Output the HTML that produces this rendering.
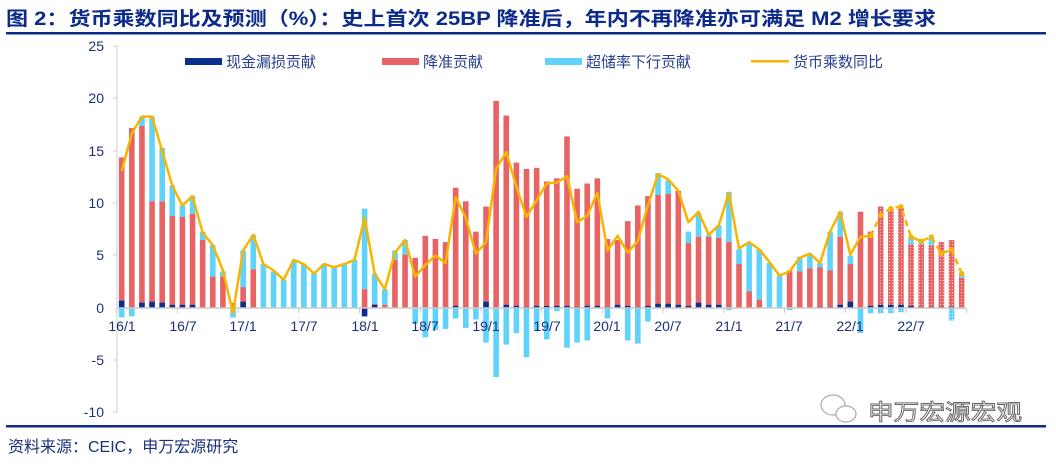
<!DOCTYPE html>
<html><head><meta charset="utf-8">
<style>
body{margin:0;background:#fff;width:1056px;height:462px;overflow:hidden;font-family:"Liberation Sans","Noto Sans CJK SC",sans-serif;}
svg text{font-family:"Liberation Sans","Noto Sans CJK SC",sans-serif;}
</style></head><body>
<svg id="s" width="1056" height="462" viewBox="0 0 1056 462" xmlns="http://www.w3.org/2000/svg">
<defs>
<pattern id="hp" width="3" height="3" patternUnits="userSpaceOnUse"><rect width="3" height="3" fill="#e86464"/><rect x="1" y="1" width="1" height="1" fill="#fbd0d0"/></pattern>
<pattern id="hb" width="3" height="3" patternUnits="userSpaceOnUse"><rect width="3" height="3" fill="#5fd3fa"/><rect x="1" y="1" width="1" height="1" fill="#d8f4fe"/></pattern>
</defs>
<text x="6" y="25" font-size="19" font-weight="bold" fill="#0b2a8a" textLength="930" lengthAdjust="spacingAndGlyphs">图 2：货币乘数同比及预测（%）：史上首次 25BP 降准后，年内不再降准亦可满足 M2 增长要求</text>
<rect x="6" y="32" width="1040" height="2.5" fill="#0b2a8a"/>
<rect x="6" y="425" width="1040" height="2.5" fill="#0b2a8a"/>
<text x="8" y="452" font-size="16" fill="#1a2f7a">资料来源：CEIC，申万宏源研究</text>
<g fill="#fff" stroke="#aaa" stroke-width="1.2"><ellipse cx="833" cy="405" rx="12" ry="10"/><ellipse cx="846" cy="414" rx="10" ry="8"/></g>
<text x="868" y="420" font-size="22" fill="#fff" stroke="#666" stroke-width="0.9" textLength="154" lengthAdjust="spacingAndGlyphs">申万宏源宏观</text>
<g font-size="14" fill="#1a2f7a" text-anchor="end">
<text x="104" y="51">25</text><text x="104" y="103">20</text><text x="104" y="156">15</text><text x="104" y="208">10</text><text x="104" y="260">5</text><text x="104" y="313">0</text><text x="104" y="365">-5</text><text x="104" y="417">-10</text>
</g>
<g stroke="#ccc" stroke-width="1"><line x1="117" y1="46" x2="117" y2="412"/>
<line x1="113" y1="46" x2="117" y2="46"/><line x1="113" y1="98" x2="117" y2="98"/><line x1="113" y1="151" x2="117" y2="151"/><line x1="113" y1="203" x2="117" y2="203"/><line x1="113" y1="255" x2="117" y2="255"/><line x1="113" y1="360" x2="117" y2="360"/><line x1="113" y1="412" x2="117" y2="412"/></g>
<rect x="185" y="58" width="37" height="7" fill="#0b2f8f"/><text x="226" y="67" font-size="15" fill="#2a3f8f">现金漏损贡献</text>
<rect x="382" y="58" width="37" height="7" fill="#e86464"/><text x="423" y="67" font-size="15" fill="#2a3f8f">降准贡献</text>
<rect x="545" y="58" width="37" height="7" fill="#5fd3fa"/><text x="586" y="67" font-size="15" fill="#2a3f8f">超储率下行贡献</text>
<rect x="751" y="60" width="38" height="2.5" fill="#f7b500"/><text x="793" y="67" font-size="15" fill="#2a3f8f">货币乘数同比</text>
<g id="bars"></g>
<g font-size="14" fill="#1a2f7a" text-anchor="middle" id="xl">
<text x="122" y="331">16/1</text><text x="183" y="331">16/7</text><text x="243" y="331">17/1</text><text x="304" y="331">17/7</text><text x="365" y="331">18/1</text><text x="425" y="331">18/7</text><text x="486" y="331">19/1</text><text x="547" y="331">19/7</text><text x="607" y="331">20/1</text><text x="668" y="331">20/7</text><text x="729" y="331">21/1</text><text x="789" y="331">21/7</text><text x="850" y="331">22/1</text><text x="911" y="331">22/7</text>
</g>
</svg>
<script>
var D=[[14.4,14.4,-0.9,0.7,13.1],[17.2,17.2,-0.8,0,16.7],[17.4,18.3,0,0.5,18.3],[10.2,18.3,0,0.6,18.3],[10.2,15.3,0,0.5,15],[8.8,11.7,0,0.3,11.7],[8.7,9.8,0,0.3,9.8],[9,10.7,0,0.3,10.7],[6.5,7.3,0,0,7.2],[3,6,0,0,6],[3,3.5,0,0,3.6],[0.5,0.5,-0.9,0,-0.5],[2,5.5,0,0.6,5.5],[3.7,7,0,0,7],[0,4.2,0,0,4.2],[0,3.5,0,0,3.6],[0,2.7,0,0,2.7],[0,4.5,0,0,4.6],[0,4.2,0,0,4.2],[0,3.3,0,0,3.3],[0,4.2,0,0,4.2],[0,3.9,0,0,3.9],[0,4.2,0,0,4.2],[0,4.6,0,0,4.6],[1.8,9.5,0,-0.8,8.6],[0.4,3.3,0,0.3,3.3],[0.3,1.8,0,0,1.8],[4.6,5.5,0,0,5.3],[5.1,6.5,0,0,6.5],[4.8,4.8,-1.5,0,3],[6.9,6.9,-2.8,0,4.1],[6.6,6.6,-2.1,0,5],[6.3,6.3,-2,0,4.3],[11.5,11.5,-1,0.2,10.6],[10.2,10.2,-1.9,0,8.6],[7.3,7.3,-1.1,0,5.2],[9.7,9.7,-3.3,0.6,6.3],[19.8,19.8,-6.6,0,13.3],[18.4,18.4,-3.5,0.3,14.9],[13.9,13.9,-2.4,0.2,11.6],[13.3,13.3,-4.7,0.1,8.7],[13.4,13.4,-2.1,0.2,10.3],[12.1,12.1,-3,0.2,11.9],[12.4,12.4,-0.3,0.2,12],[16.4,16.4,-3.8,0.2,12.6],[11.4,11.4,-3.3,0.1,8.2],[11.9,11.9,-3.1,0.2,8.8],[12.4,12.4,0,0.2,11],[6.6,6.6,-1,0.1,5.5],[6.5,6.5,0,0.3,6.9],[8.3,8.3,-3.1,0.2,5.3],[9.8,9.8,-3.4,0.1,6.4],[10.7,10.7,-1.3,0.2,9.8],[10.8,12.9,0,0.4,12.8],[10.9,12.2,0,0.4,12.3],[11.2,11.2,0,0.3,11.2],[6.2,7.3,0,0.2,8.2],[6.8,9.1,0,0.5,9.2],[6.8,7,0,0.3,7],[6.7,7.9,0,0.3,7.9],[6.3,11.1,-0.2,0,11],[4.2,5.6,0,0,5.7],[1.6,6.2,0,0,6.3],[0.8,5.6,0,0,5.6],[0,4.3,0,0,4.4],[0,3.1,0,0,3.1],[3.6,3.6,-0.2,0,3.5],[3.5,4.9,0,0,4.8],[3.8,5.2,0,0,5.2],[3.9,4.3,0,0.1,4.3],[3.6,7.3,0,0.1,7.3],[6.8,9.2,0,0.3,9.2],[4.2,5,0,0.6,5.1],[9.2,9.2,-2.4,0,6.8],[7.3,7.3,-0.5,0.2,6.9],[9.7,9.7,-0.5,0.3,8.9],[9.5,9.5,-0.5,0.3,9.5],[9.6,9.6,-0.4,0.3,9.7],[6.1,6.8,0,0.2,6.8],[6.1,6.5,0,0.1,6.4],[6,6.8,0,0.1,6.8],[6.3,6.3,0,0.1,5.2],[6.5,6.5,-1.2,0.1,5.6],[2.9,3.3,-0.1,0,3.3]];
var Z=308,K=10.46,W=5.6,NS="http://www.w3.org/2000/svg",g=document.getElementById('bars');
function X(i){return 121.7+i*10.12;}
function r(x,y1,y2,f){var e=document.createElementNS(NS,'rect');var a=Math.min(y1,y2),b=Math.max(y1,y2);e.setAttribute('x',x-W/2);e.setAttribute('y',a);e.setAttribute('width',W);e.setAttribute('height',Math.max(b-a,0.01));e.setAttribute('fill',f);g.appendChild(e);}
function Y(v){return Z-v*K;}
D.forEach(function(d,i){var x=X(i),h=i>=75;
 if(d[1]>d[0])r(x,Y(d[0]),Y(d[1]),h?'url(#hb)':'#5fd3fa');
 if(d[0]>0)r(x,Z,Y(d[0]),h?'url(#hp)':'#e86464');
 if(d[2]<0)r(x,Z,Y(d[2]),h?'url(#hb)':'#5fd3fa');
 if(d[3]!=0)r(x,Z,Y(d[3]),'#0b2f8f');
});
var ax=document.createElementNS(NS,'line');ax.setAttribute('x1',117);ax.setAttribute('x2',966);ax.setAttribute('y1',Z);ax.setAttribute('y2',Z);ax.setAttribute('stroke','#ccc');ax.setAttribute('stroke-width','1.5');g.appendChild(ax);
for(var k=0;k<15;k++){var t=document.createElementNS(NS,'line'),tx=X(k*6-0.5);t.setAttribute('x1',tx);t.setAttribute('x2',tx);t.setAttribute('y1',Z);t.setAttribute('y2',Z+5);t.setAttribute('stroke','#ccc');g.appendChild(t);}
function pl(a,b,dash){var p=[];for(var i=a;i<=b;i++)p.push(X(i).toFixed(1)+','+Y(D[i][4]).toFixed(1));var e=document.createElementNS(NS,'polyline');e.setAttribute('points',p.join(' '));e.setAttribute('fill','none');e.setAttribute('stroke','#f7b500');e.setAttribute('stroke-width','2.5');e.setAttribute('stroke-linejoin','round');if(dash)e.setAttribute('stroke-dasharray','6,4');g.appendChild(e);}
pl(0,74,false);pl(74,83,true);
for(var i=74;i<=83;i++){var c=document.createElementNS(NS,'circle');c.setAttribute('cx',X(i));c.setAttribute('cy',Y(D[i][4]));c.setAttribute('r',2.6);c.setAttribute('fill','#f7b500');g.appendChild(c);}
</script>
</body></html>
